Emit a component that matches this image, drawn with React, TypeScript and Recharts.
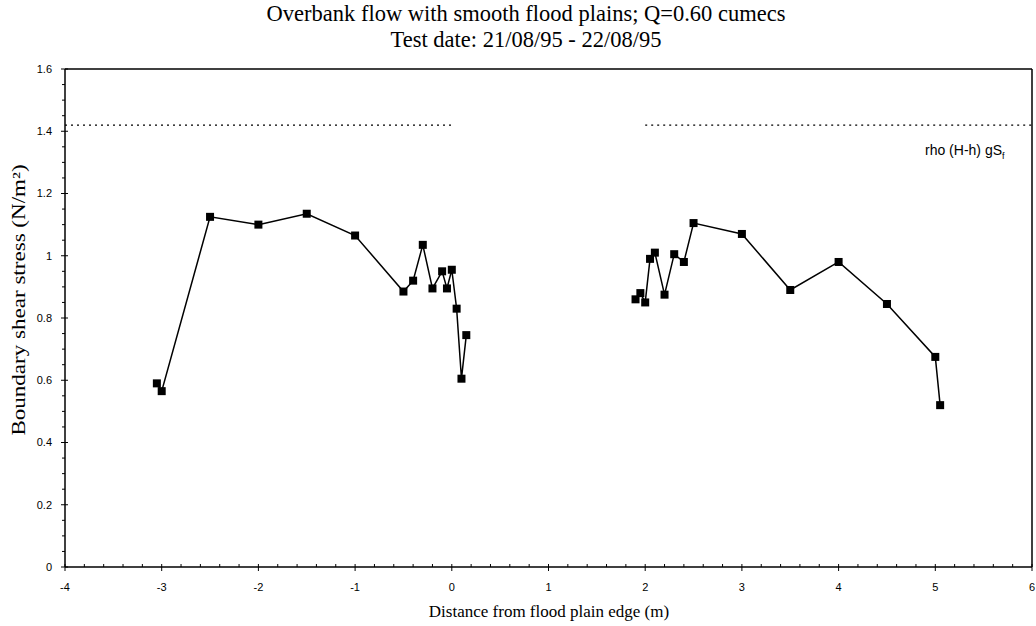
import React from "react";
import { ComposedChart, Line, XAxis, YAxis, ReferenceLine } from "recharts";

// distance from flood plain edge (m) and boundary shear stress (N/m2)
const leftDistance = [-3.05, -3, -2.5, -2, -1.5, -1, -0.5, -0.4, -0.3, -0.2, -0.1, -0.05, 0, 0.05, 0.1, 0.15];
const leftStress = [0.59, 0.565, 1.125, 1.1, 1.135, 1.065, 0.885, 0.92, 1.035, 0.895, 0.95, 0.895, 0.955, 0.83, 0.605, 0.745];

const rightDistance = [1.9, 1.95, 2, 2.05, 2.1, 2.2, 2.3, 2.4, 2.5, 3, 3.5, 4, 4.5, 5, 5.05];
const rightStress = [0.86, 0.88, 0.85, 0.99, 1.01, 0.875, 1.005, 0.98, 1.105, 1.07, 0.89, 0.98, 0.845, 0.675, 0.52];

// rho (H-h) gSf level, drawn over the two flood plains
const plainLeft = [-4, 0];
const plainRight = [2, 6];
const plainLevel = [1.42, 1.42];

const xTicks = [-4, -3, -2, -1, 0, 1, 2, 3, 4, 5, 6];
const yTicks = [0, 0.2, 0.4, 0.6, 0.8, 1, 1.2, 1.4, 1.6];
const xMinor = [-3.8, -3.6, -3.4, -3.2, -2.8, -2.6, -2.4, -2.2, -1.8, -1.6, -1.4, -1.2, -0.8, -0.6, -0.4, -0.2,
  0.2, 0.4, 0.6, 0.8, 1.2, 1.4, 1.6, 1.8, 2.2, 2.4, 2.6, 2.8, 3.2, 3.4, 3.6, 3.8, 4.2, 4.4, 4.6, 4.8, 5.2, 5.4, 5.6, 5.8];
const yMinor = [0.05, 0.1, 0.15, 0.25, 0.3, 0.35, 0.45, 0.5, 0.55, 0.65, 0.7, 0.75, 0.85, 0.9, 0.95,
  1.05, 1.1, 1.15, 1.25, 1.3, 1.35, 1.45, 1.5, 1.55];

const allX = [...xTicks, ...xMinor].sort((a, b) => a - b);
const allY = [...yTicks, ...yMinor].sort((a, b) => a - b);

const rows = (xs: number[], ys: number[]) => xs.map((x, i) => ({ x, y: ys[i] }));

const Square = (props: any) => {
  const { cx, cy } = props;
  if (cx == null || cy == null) return null;
  return <rect x={cx - 4} y={cy - 4} width={8} height={8} fill="#000" />;
};

const sans = "Liberation Sans, Arial, sans-serif";
const serif = "Liberation Serif, 'Times New Roman', serif";

// major ticks cross the axis and carry a label, minor ticks are short
const XTick = (props: any) => {
  const { x, y, payload } = props;
  const major = xTicks.includes(payload.value);
  return (
    <g>
      <line x1={x} x2={x} y1={y - 3} y2={major ? y + 4 : y} stroke="#000" strokeWidth={1} />
      {major && (
        <text x={x} y={y + 20} dy="0.35em" textAnchor="middle" fontFamily={sans} fontSize={11} fill="#000">
          {payload.value}
        </text>
      )}
    </g>
  );
};

const YTick = (props: any) => {
  const { x, y, payload } = props;
  const major = yTicks.includes(payload.value);
  return (
    <g>
      <line x1={major ? x - 4 : x - 3} x2={major ? x + 3 : x} y1={y} y2={y} stroke="#000" strokeWidth={1} />
      {major && (
        <text x={x - 13} y={y} dy="0.35em" textAnchor="end" fontFamily={sans} fontSize={11} fill="#000">
          {String(payload.value)}
        </text>
      )}
    </g>
  );
};

const App = () => {
  return (
    <div style={{ position: "absolute", left: 0, top: 0, width: 1036, height: 626, background: "#fff" }}>
      <div style={{ position: "absolute", left: 0, width: 1052, top: 1, textAlign: "center", fontFamily: serif, fontSize: 22.5, lineHeight: "26px", color: "#000" }}>
        Overbank flow with smooth flood plains; Q=0.60 cumecs
        <br />
        Test date: 21/08/95 - 22/08/95
      </div>
      <ComposedChart width={1036} height={626} margin={{ top: 69, right: 4, bottom: 0, left: 0 }}>
        <XAxis
          dataKey="x"
          type="number"
          domain={[-4, 6]}
          ticks={allX}
          interval={0}
          allowDataOverflow
          height={59}
          tickSize={0}
          tickMargin={0}
          tickLine={false}
          tick={<XTick />}
          stroke="#000"
          strokeWidth={1.5}
        />
        <YAxis
          type="number"
          domain={[0, 1.6]}
          ticks={allY}
          interval={0}
          allowDataOverflow
          width={65}
          tickSize={0}
          tickMargin={0}
          tickLine={false}
          tick={<YTick />}
          stroke="#000"
          strokeWidth={1.5}
        />
        <ReferenceLine y={1.6} stroke="#000" strokeWidth={1.5} />
        <ReferenceLine x={6} stroke="#000" strokeWidth={1.5} />
        <Line data={rows(plainLeft, plainLevel)} dataKey="y" stroke="#000" strokeWidth={1.3} strokeDasharray="2 4" dot={false} isAnimationActive={false} />
        <Line data={rows(plainRight, plainLevel)} dataKey="y" stroke="#000" strokeWidth={1.3} strokeDasharray="2 4" dot={false} isAnimationActive={false} />
        <Line data={rows(leftDistance, leftStress)} dataKey="y" stroke="#000" strokeWidth={1.5} dot={<Square />} isAnimationActive={false} />
        <Line data={rows(rightDistance, rightStress)} dataKey="y" stroke="#000" strokeWidth={1.5} dot={<Square />} isAnimationActive={false} />
      </ComposedChart>
      <div style={{ position: "absolute", left: 925, top: 142, fontFamily: sans, fontSize: 14, lineHeight: "16px", color: "#000" }}>
        rho (H-h) gS<sub style={{ fontSize: 9 }}>f</sub>
      </div>
      <div style={{ position: "absolute", left: 19, top: 300, transform: "translate(-50%, -50%) rotate(-90deg) scaleX(1.28)", whiteSpace: "nowrap", fontFamily: serif, fontSize: 18, color: "#000" }}>
        Boundary shear stress (N/m²)
      </div>
      <div style={{ position: "absolute", left: 0, width: 1098, top: 602, textAlign: "center", fontFamily: serif, fontSize: 17, color: "#000" }}>
        Distance from flood plain edge (m)
      </div>
    </div>
  );
};

export default App;
